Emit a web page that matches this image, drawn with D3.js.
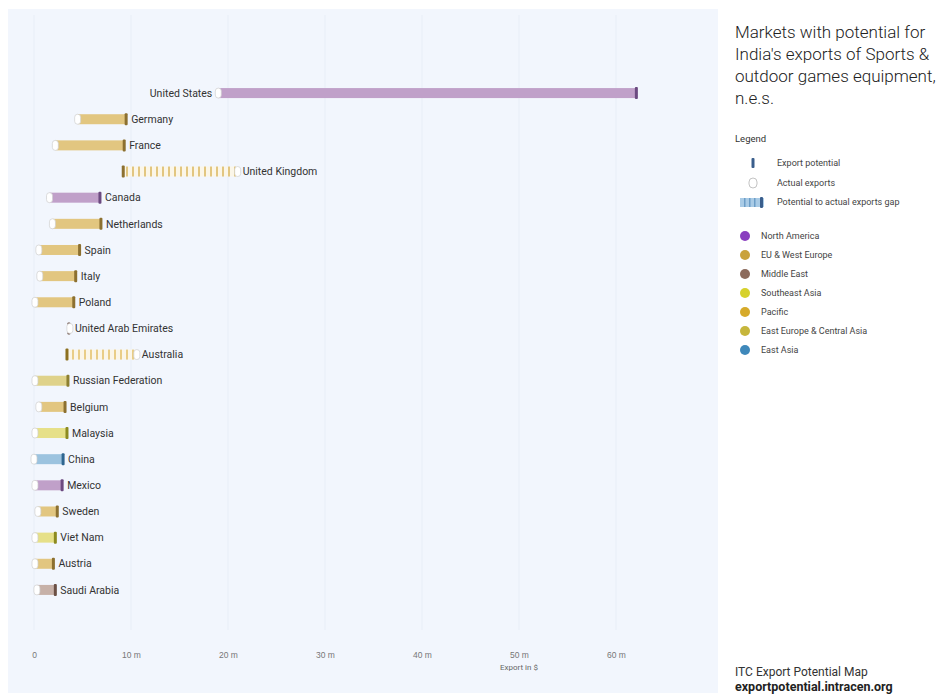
<!DOCTYPE html>
<html>
<head>
<meta charset="utf-8">
<script src="https://cdn.jsdelivr.net/npm/d3@7"></script>
<style>
  html, body { margin: 0; padding: 0; background: #ffffff; }
  svg { display: block; font-family: Roboto, "Noto Sans", sans-serif; }
</style>
</head>
<body>
<svg id="chart" width="943" height="694"></svg>
<script>
// Markets, in display order
const markets = ["United States", "Germany", "France", "United Kingdom", "Canada", "Netherlands",
  "Spain", "Italy", "Poland", "United Arab Emirates", "Australia", "Russian Federation",
  "Belgium", "Malaysia", "China", "Mexico", "Sweden", "Viet Nam", "Austria", "Saudi Arabia"];
// Export potential, US$ million
const potential = [62.1, 9.5, 9.3, 9.2, 6.8, 6.9, 4.7, 4.3, 4.1, 3.6, 3.4, 3.5, 3.2, 3.4, 3.0, 2.9, 2.4, 2.2, 2.0, 2.2];
// Actual exports, US$ million
const actual = [19.0, 4.5, 2.2, 21.0, 1.6, 1.9, 0.5, 0.6, 0.1, 3.7, 10.6, 0.1, 0.5, 0.1, 0.0, 0.1, 0.4, 0.1, 0.1, 0.3];
// Region of each market
const marketRegion = ["North America", "EU & West Europe", "EU & West Europe", "EU & West Europe",
  "North America", "EU & West Europe", "EU & West Europe", "EU & West Europe", "EU & West Europe",
  "Middle East", "Pacific", "East Europe & Central Asia", "EU & West Europe", "Southeast Asia",
  "East Asia", "North America", "EU & West Europe", "Southeast Asia", "EU & West Europe", "Middle East"];

const regions = ["North America", "EU & West Europe", "Middle East", "Southeast Asia", "Pacific",
  "East Europe & Central Asia", "East Asia"];
const regionColors = ["#8a3fbf", "#c9a23c", "#8c6b5c", "#d6d12c", "#d6aa2a", "#c6b63c", "#3f88ba"];
const barColors = ["#c0a0c9", "#e2c680", "#c7b1a8", "#e6e088", "#e9cd86", "#dfd28a", "#9cc3df"];
const markerColors = ["#6b4a80", "#8c7030", "#6b5045", "#8c8a20", "#8c7020", "#8c7f30", "#2f6690"];

const tickValues = [0, 10, 20, 30, 40, 50, 60];
const tickLabels = ["0", "10 m", "20 m", "30 m", "40 m", "50 m", "60 m"];

const svg = d3.select("#chart");
const defs = svg.append("defs");

// Plot panel background
svg.append("rect").attr("x", 8).attr("y", 9).attr("width", 710).attr("height", 684)
  .attr("fill", "#f2f6fd");

const x = d3.scaleLinear().domain([0, 70]).range([34, 713]);
const y = d3.scaleBand().domain(markets).range([80, 603]);

const colorOf = d3.scaleOrdinal().domain(regions).range(regionColors);
const barOf = d3.scaleOrdinal().domain(regions).range(barColors);
const markOf = d3.scaleOrdinal().domain(regions).range(markerColors);

// Striped pattern for markets whose actual exports exceed potential
regions.forEach((r, i) => {
  const p = defs.append("pattern").attr("id", "stripe" + i)
    .attr("patternUnits", "userSpaceOnUse").attr("width", 6).attr("height", 10);
  p.append("rect").attr("width", 6).attr("height", 10).attr("fill", "#fbf6e8");
  p.append("rect").attr("x", 0).attr("width", 2).attr("height", 10).attr("fill", barColors[i]);
});

// Vertical grid lines
svg.append("g").selectAll("line").data(tickValues).join("line")
  .attr("x1", d => x(d)).attr("x2", d => x(d))
  .attr("y1", 15).attr("y2", 630)
  .attr("stroke", "#e8eef7").attr("stroke-width", 1);

// X axis
const axis = d3.axisBottom(x).tickValues(tickValues)
  .tickFormat((d, i) => tickLabels[i]).tickSize(0).tickPadding(0);
const ax = svg.append("g").attr("transform", "translate(0,652)").call(axis);
ax.select(".domain").remove();
ax.selectAll("text").attr("fill", "#777").attr("font-size", 8.5);

svg.append("text").attr("x", x(50)).attr("y", 670).attr("text-anchor", "middle")
  .attr("font-size", 8).attr("fill", "#666").text("Export in $");

const rows = markets.map((m, i) => ({
  name: m, pot: potential[i], act: actual[i], region: marketRegion[i]
}));

const bh = 10;
const g = svg.append("g");
rows.forEach(d => {
  const cy = y(d.name) + y.bandwidth() / 2;
  const ri = regions.indexOf(d.region);
  const lo = Math.min(d.pot, d.act), hi = Math.max(d.pot, d.act);
  const over = d.act > d.pot;
  // gap bar
  g.append("rect")
    .attr("x", x(lo)).attr("y", cy - bh / 2)
    .attr("width", Math.max(0, x(hi) - x(lo))).attr("height", bh)
    .attr("fill", over ? `url(#stripe${ri})` : barOf(d.region));
  // potential marker
  g.append("rect")
    .attr("x", x(d.pot) - 1.5).attr("y", cy - 6).attr("width", 3).attr("height", 12)
    .attr("rx", 1).attr("fill", markOf(d.region));
  // actual exports marker
  g.append("rect")
    .attr("x", x(d.act) - 3).attr("y", cy - 5).attr("width", 6).attr("height", 10)
    .attr("rx", 3).attr("fill", "#ffffff").attr("stroke", "#cfcfcf").attr("stroke-width", 0.7);
  // label
  const lbl = g.append("text").attr("y", cy).attr("dy", "0.35em")
    .attr("font-size", 10.5).attr("fill", "#333").text(d.name);
  const w = lbl.node().getComputedTextLength();
  const rightX = x(hi) + 5;
  if (rightX + w > 690) {
    lbl.attr("x", x(lo) - 6).attr("text-anchor", "end");
  } else {
    lbl.attr("x", rightX);
  }
});

// Side panel: title
const title = ["Markets with potential for", "India's exports of Sports &",
  "outdoor games equipment,", "n.e.s."];
svg.append("g").selectAll("text").data(title).join("text")
  .attr("x", 735).attr("y", (d, i) => 38 + i * 22)
  .attr("font-size", 17).attr("font-weight", 300).attr("fill", "#222")
  .text(d => d);

svg.append("text").attr("x", 735).attr("y", 142).attr("font-size", 9.5)
  .attr("fill", "#333").text("Legend");

// Marker legend
const lg = svg.append("g").attr("font-size", 9).attr("fill", "#444");
lg.append("rect").attr("x", 751.5).attr("y", 158).attr("width", 3).attr("height", 10)
  .attr("rx", 1).attr("fill", "#3a5e8c");
lg.append("text").attr("x", 777).attr("y", 163).attr("dy", "0.35em").text("Export potential");
lg.append("rect").attr("x", 749).attr("y", 178).attr("width", 8).attr("height", 10)
  .attr("rx", 4).attr("fill", "#fff").attr("stroke", "#aaa").attr("stroke-width", 0.7);
lg.append("text").attr("x", 777).attr("y", 183).attr("dy", "0.35em").text("Actual exports");
lg.append("rect").attr("x", 740).attr("y", 198).attr("width", 24).attr("height", 9)
  .attr("fill", "#a9cbe6");
[744, 749, 754].forEach(px => lg.append("rect").attr("x", px).attr("y", 198)
  .attr("width", 1.5).attr("height", 9).attr("fill", "#6d9ec7"));
lg.append("rect").attr("x", 760).attr("y", 197).attr("width", 3).attr("height", 11)
  .attr("rx", 1).attr("fill", "#3a5e8c");
lg.append("text").attr("x", 777).attr("y", 202).attr("dy", "0.35em").text("Potential to actual exports gap");

// Region legend
const rg = svg.append("g");
regions.forEach((r, i) => {
  const cy = 236 + i * 19;
  rg.append("circle").attr("cx", 745).attr("cy", cy).attr("r", 5).attr("fill", colorOf(r));
  rg.append("text").attr("x", 761).attr("y", cy).attr("dy", "0.35em")
    .attr("font-size", 9).attr("fill", "#444").text(r);
});

// Source
svg.append("text").attr("x", 735).attr("y", 676).attr("font-size", 12)
  .attr("fill", "#333").text("ITC Export Potential Map");
svg.append("text").attr("x", 735).attr("y", 691).attr("font-size", 12.5)
  .attr("font-weight", 700).attr("fill", "#222").text("exportpotential.intracen.org");
</script>
</body>
</html>
